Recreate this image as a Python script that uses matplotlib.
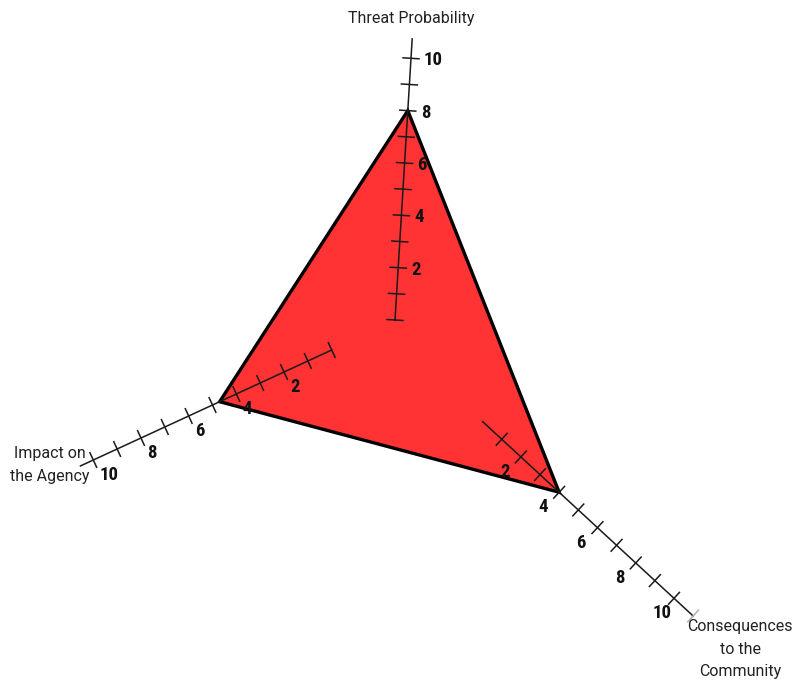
import numpy as np
import matplotlib
matplotlib.use("Agg")
import matplotlib.pyplot as plt

# ===== Data =====
axis_names = ["Threat Probability", "Impact on\nthe Agency", "Consequences\nto the\nCommunity"]
values = [8, 4.7, 4]
tick_values = list(range(0, 11))
label_values = [2, 4, 6, 8, 10]

# ===== Layout (pixel space, y down) =====
origins = np.array([[395.0, 320.0], [331.7, 350.0], [482.6, 421.6]])
steps = np.array([[1.6, -26.17], [-23.84, 11.0], [19.14, 17.67]])
line_start = [0.0, 0.0, 0.0]
line_end = [10.74, 10.54, 11.0]
first_tick = [0, 0, 1]
label_offsets = [(13, 2), (6, 15), (-21, 15)]
title_pos = [(411, 19), (50, 465), (740, 649)]

fig = plt.figure(figsize=(8, 6.83), dpi=100)
ax = fig.add_axes([0, 0, 1, 1])
ax.set_xlim(0, 800)
ax.set_ylim(683, 0)
ax.axis("off")

def point(i, v):
    return origins[i] + v * steps[i]

def tick(i, v, color):
    d = steps[i] / np.linalg.norm(steps[i])
    perp = np.array([-d[1], d[0]])
    c = point(i, v)
    a = c - 8 * perp
    b = c + 8 * perp
    ax.plot([a[0], b[0]], [a[1], b[1]], color=color, lw=1.1, zorder=2)

# Polygon of values
verts = np.array([point(i, v) for i, v in enumerate(values)])
ax.fill(verts[:, 0], verts[:, 1], facecolor="#ff3333", edgecolor="black",
        linewidth=2.4, joinstyle="miter", zorder=1)

for i in range(3):
    p0 = point(i, line_start[i])
    p1 = point(i, line_end[i])
    ax.plot([p0[0], p1[0]], [p0[1], p1[1]], color="#1a1a1a", lw=1.1, zorder=2)
    for t in tick_values:
        if t >= first_tick[i]:
            tick(i, t, "#1a1a1a")
    if line_end[i] >= 11:
        tick(i, 11, "#b0b0b0")
    for v in label_values:
        c = point(i, v)
        ox, oy = label_offsets[i]
        ax.text(c[0] + ox, c[1] + oy, str(v), ha="left", va="center",
                fontsize=13.5, fontweight="bold",
                family=["Roboto Condensed", "DejaVu Sans"],
                fontstretch="condensed", color="#111111", zorder=3)
    tx, ty = title_pos[i]
    ax.text(tx, ty, axis_names[i], ha="center", va="center", fontsize=11.5,
            family=["Roboto", "DejaVu Sans"], color="#222222",
            linespacing=1.65, zorder=3)

fig.savefig("out.png", dpi=100)
